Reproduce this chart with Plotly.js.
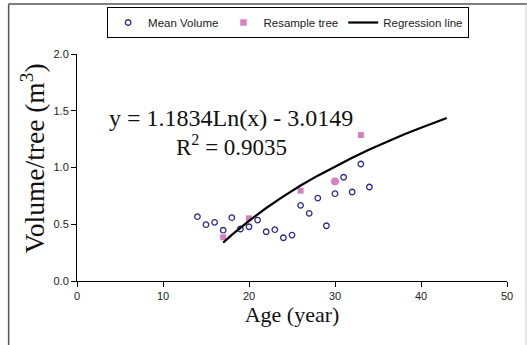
<!DOCTYPE html>
<html><head><meta charset="utf-8">
<script src="https://cdn.plot.ly/plotly-3.0.1.min.js"></script>
<style>html,body{margin:0;padding:0;background:#fff;}#chart{width:527px;height:345px;}</style>
</head><body><div id="chart"></div>
<script>
// Mean volume per tree by age
var meanAge = [14,15,16,17,18,19,20,21,22,23,24,25,26,27,28,29,30,31,32,33,34];
var meanVol = [0.567,0.496,0.517,0.447,0.558,0.458,0.478,0.537,0.434,0.452,0.381,0.405,0.667,0.596,0.731,0.487,0.769,0.914,0.784,1.031,0.828];
// Resample trees
var resAge = [17,20,26,30,33];
var resVol = [0.385,0.552,0.796,0.877,1.286];
// Regression line
var regAge = [17,18,20,22,24,26,28,30,32,34,36,38,40,43];
var regVol = [0.338,0.406,0.530,0.643,0.746,0.841,0.928,1.010,1.086,1.158,1.226,1.290,1.351,1.436];
var xTicks = [0,10,20,30,40,50];
var yTicks = [0,0.5,1.0,1.5,2.0];

var sans = 'Liberation Sans, Arial, sans-serif';
var serif = 'Liberation Serif, Times New Roman, serif';

var traces = [
  {x: meanAge, y: meanVol, type:'scatter', mode:'markers', name:'Mean Volume',
   marker:{symbol:'circle-open', size:5.5, color:'#2b2b8a', line:{width:1.3, color:'#2b2b8a'}}},
  {x: resAge, y: resVol, type:'scatter', mode:'markers', name:'Resample tree',
   marker:{symbol:['square','square','square','circle','square'], size:[7,7,7,9,7], color:'#c24da6'}},
  {x: regAge, y: regVol, type:'scatter', mode:'lines', name:'Regression line',
   line:{color:'#000', width:2.2}}
];

var layout = {
  width:527, height:345,
  margin:{l:77, r:20, t:54, b:64, autoexpand:false},
  paper_bgcolor:'#fff', plot_bgcolor:'#fff',
  showlegend:true,
  legend:{orientation:'h', x:0.07, xanchor:'left', y:1.207, yanchor:'top',
    bordercolor:'#000', borderwidth:1, bgcolor:'#fff',
    font:{family:sans, size:11.5, color:'#222'}, tracegroupgap:0, itemwidth:30},
  xaxis:{range:[0,50], tickvals:xTicks, ticktext:xTicks.map(String), showline:true, linecolor:'#000', linewidth:1,
    ticks:'outside', ticklen:5, tickcolor:'#000', showgrid:false, zeroline:false,
    tickfont:{family:sans, size:11, color:'#222'},
    title:{text:'Age (year)', font:{family:serif, size:22, color:'#111'}, standoff:4}},
  yaxis:{range:[0,2], tickvals:yTicks, ticktext:yTicks.map(function(v){return v.toFixed(1);}), showline:true, linecolor:'#000', linewidth:1,
    ticks:'outside', ticklen:5, tickcolor:'#000', showgrid:false, zeroline:false,
    tickfont:{family:sans, size:11, color:'#222'}},
  annotations:[
    {xref:'paper', yref:'paper', x:-0.102, y:0.54, xanchor:'center', yanchor:'middle', textangle:-90,
     text:'Volume/tree (m<sup>3</sup>)', showarrow:false, font:{family:serif, size:27.5, color:'#111'}},
    {xref:'paper', yref:'paper', x:0.357, y:0.718, xanchor:'center', yanchor:'middle', text:'y = 1.1834Ln(x) - 3.0149', showarrow:false,
     font:{family:serif, size:24, color:'#111'}},
    {xref:'paper', yref:'paper', x:0.359, y:0.595, xanchor:'center', yanchor:'middle', text:'R<sup>2</sup> = 0.9035', showarrow:false,
     font:{family:serif, size:23, color:'#111'}}
  ],
  shapes:[
    {type:'line', xref:'paper', yref:'paper', x0:-0.159, x1:1.05, y0:1.22, y1:1.22, line:{color:'#555', width:1.5}},
    {type:'line', xref:'paper', yref:'paper', x0:-0.159, x1:-0.159, y0:1.22, y1:-0.4, line:{color:'#555', width:1.5}},
    {type:'line', xref:'paper', yref:'paper', x0:1.044, x1:1.044, y0:1.22, y1:-0.4, line:{color:'#ccc', width:1}}
  ]
};
Plotly.newPlot('chart', traces, layout, {displayModeBar:false, staticPlot:true});
</script></body></html>
